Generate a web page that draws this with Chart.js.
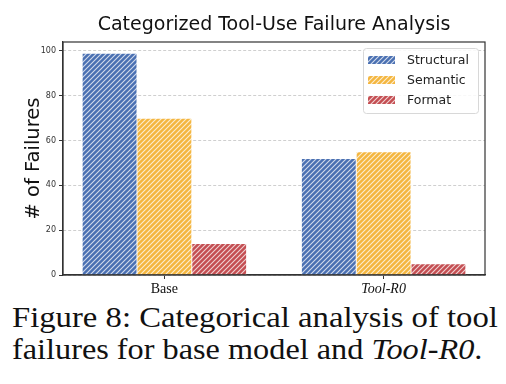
<!DOCTYPE html>
<html>
<head>
<meta charset="utf-8">
<script src="https://cdn.jsdelivr.net/npm/chart.js@4"></script>
<style>
  html, body { margin: 0; padding: 0; background: #fff; }
  body { width: 506px; height: 384px; overflow: hidden; position: relative; }
  #wrap { position: absolute; left: 0; top: 0; width: 506px; height: 300px; }
  .cap { position: absolute; left: 12px; font-family: "Liberation Serif", serif; font-size: 30px; color: #111; white-space: nowrap; line-height: 1; transform-origin: 0 0; }
</style>
</head>
<body>
<div id="wrap"><canvas id="chart"></canvas></div>
<div class="cap" id="cap1" style="top:302px; transform: scaleX(1.09)">Figure 8: Categorical analysis of tool</div>
<div class="cap" id="cap2" style="top:334px; transform: scaleX(1.076)">failures for base model and <i>Tool-R0</i>.</div>
<script>
// ===== data =====
const categories = ['Base', 'Tool-R0'];
const seriesNames = ['Structural', 'Semantic', 'Format'];
const structural = [99, 52];
const semantic = [70, 55];
const format = [14, 5];
const yTicks = [0, 20, 40, 60, 80, 100];

const colors = ['#4a70b2', '#f4b63f', '#c44e52'];
const offsets = [-0.25, 0, 0.25];

// hatch "///" pattern
function hatch(color) {
  const s = 5;
  const c = document.createElement('canvas');
  c.width = s; c.height = s;
  const g = c.getContext('2d');
  g.fillStyle = color;
  g.fillRect(0, 0, s, s);
  g.strokeStyle = 'rgba(255,255,255,0.75)';
  g.lineWidth = 1.1;
  g.beginPath();
  g.moveTo(0, s); g.lineTo(s, 0);
  g.moveTo(-1, 1); g.lineTo(1, -1);
  g.moveTo(s - 1, s + 1); g.lineTo(s + 1, s - 1);
  g.stroke();
  const ctx = document.getElementById('chart').getContext('2d');
  return ctx.createPattern(c, 'repeat');
}

function points(values, k) {
  return values.map((v, i) => ({ x: i + offsets[k], y: v }));
}

const patterns = colors.map(hatch);

// title, frame and legend drawn on top
const extras = {
  id: 'extras',
  afterDatasetsDraw(chart) {
    const { ctx, chartArea: a } = chart;
    ctx.save();
    // frame all round
    ctx.strokeStyle = '#333';
    ctx.lineWidth = 1.2;
    ctx.setLineDash([]);
    ctx.strokeRect(a.left, a.top, a.right - a.left, a.bottom - a.top);

    // title
    ctx.fillStyle = '#111';
    ctx.font = '19px "DejaVu Sans"';
    ctx.textAlign = 'center';
    ctx.textBaseline = 'middle';
    ctx.fillText('Categorized Tool-Use Failure Analysis', (a.left + a.right) / 2, 25);

    // legend
    const bx = 363, by = 48, bw = 115, bh = 65;
    ctx.fillStyle = 'rgba(255,255,255,0.85)';
    ctx.strokeStyle = '#d8d8d8';
    ctx.lineWidth = 1;
    ctx.beginPath();
    ctx.roundRect(bx + 0.5, by + 0.5, bw, bh, 3);
    ctx.fill();
    ctx.stroke();
    ctx.font = '12.5px "DejaVu Sans"';
    ctx.textAlign = 'left';
    seriesNames.forEach((name, k) => {
      const cy = 60 + k * 20;
      ctx.fillStyle = patterns[k];
      ctx.fillRect(368, cy - 4, 27, 8);
      ctx.fillStyle = '#222';
      ctx.fillText(name, 407, cy + 1);
    });
    ctx.restore();
  }
};

const chart = new Chart(document.getElementById('chart'), {
  type: 'bar',
  data: {
    datasets: [structural, semantic, format].map((vals, k) => ({
      label: seriesNames[k],
      data: points(vals, k),
      backgroundColor: patterns[k],
      borderColor: '#ffffff',
      borderWidth: 0.8,
      grouped: false,
      categoryPercentage: 1,
      barPercentage: 1
    }))
  },
  options: {
    responsive: true,
    maintainAspectRatio: false,
    animation: false,
    layout: { padding: { top: 42, right: 21, left: 0, bottom: 0 } },
    plugins: {
      legend: { display: false },
      title: { display: false },
      tooltip: { enabled: false }
    },
    scales: {
      x: {
        type: 'linear',
        offset: false,
        min: -0.4625,
        max: 1.4625,
        afterBuildTicks: (s) => { s.ticks = categories.map((c, i) => ({ value: i })); },
        afterFit: (s) => { s.height = 25; },
        border: { display: true, color: '#333', width: 1.2 },
        grid: { offset: false, drawOnChartArea: false, drawTicks: true, tickLength: 4, tickColor: '#333' },
        ticks: {
          padding: 2,
          color: '#111',
          callback: (v) => categories[v],
          font: (c) => ({
            family: 'Liberation Serif',
            size: 14,
            style: c.tick && c.tick.value === 1 ? 'italic' : 'normal'
          })
        }
      },
      y: {
        min: 0,
        max: 104,
        afterBuildTicks: (s) => { s.ticks = yTicks.map(v => ({ value: v })); },
        afterFit: (s) => { s.width = 63; },
        border: { display: true, color: '#333', width: 1.2, dash: [3, 2] },
        grid: {
          color: '#cfcfcf',
          lineWidth: 1,
          drawTicks: true,
          tickLength: 4,
          tickColor: '#333',
          tickBorderDash: []
        },
        ticks: {
          padding: 3,
          color: '#333',
          font: { family: 'DejaVu Sans', size: 8 }
        },
        title: {
          display: true,
          text: '# of Failures',
          color: '#111',
          font: { family: 'DejaVu Sans', size: 19.5 },
          padding: { top: 22, bottom: 0 }
        }
      }
    }
  },
  plugins: [extras]
});
</script>
</body>
</html>
